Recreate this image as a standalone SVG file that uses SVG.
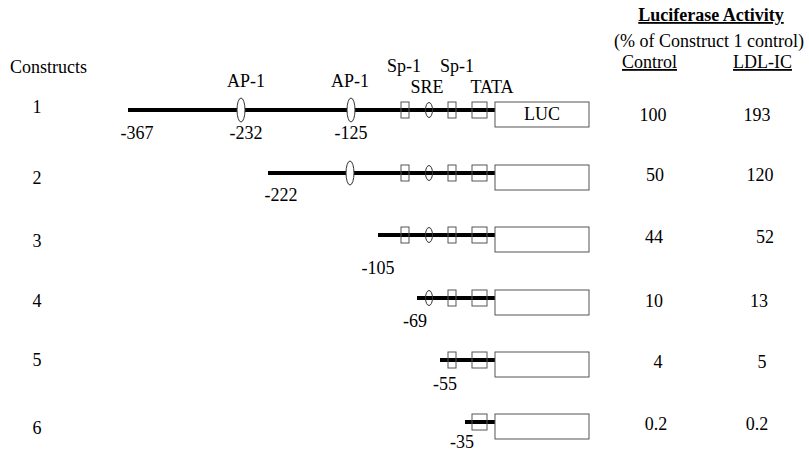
<svg xmlns="http://www.w3.org/2000/svg" width="809" height="451" viewBox="0 0 809 451">
<style>
text{font-family:"Liberation Serif","Times New Roman",serif;font-size:18px;fill:#000}
.m{text-anchor:middle}
.u{text-decoration:underline}
.b{font-weight:bold}
.dna{stroke:#000;stroke-width:4;fill:none}
.box{fill:none;stroke:#555;stroke-width:1}
.luc{fill:#fff;stroke:#555;stroke-width:1}
.ap{fill:#fff;stroke:#333;stroke-width:1}
.sre{fill:none;stroke:#333;stroke-width:1}
</style>
<rect width="809" height="451" fill="#fff"/>
<g id="header">
<text class="m b u" x="711" y="21">Luciferase Activity</text>
<text class="m" x="709" y="47">(% of Construct 1 control)</text>
<text class="u" x="622" y="68">Control</text>
<text class="u" x="733" y="68">LDL-IC</text>
<text x="10" y="73">Constructs</text>
</g>
<g id="labels">
<text class="m" x="246" y="87">AP-1</text>
<text class="m" x="350" y="87">AP-1</text>
<text class="m" x="404" y="72">Sp-1</text>
<text class="m" x="457" y="72">Sp-1</text>
<text class="m" x="427" y="93">SRE</text>
<text class="m" x="492" y="93">TATA</text>
</g>
<g id="connectors">
<line class="dna" x1="128" y1="110" x2="495" y2="110"/>
<line class="dna" x1="268" y1="173" x2="495" y2="173"/>
<line class="dna" x1="378" y1="235" x2="495" y2="235"/>
<line class="dna" x1="417" y1="298" x2="495" y2="298"/>
<line class="dna" x1="440" y1="360" x2="495" y2="360"/>
<line class="dna" x1="465" y1="422" x2="495" y2="422"/>
</g>
<g id="construct1">
<text class="m" x="37" y="113">1</text>
<ellipse class="ap" cx="241" cy="110" rx="4" ry="12"/>
<ellipse class="ap" cx="351" cy="110" rx="4" ry="12"/>
<rect class="box" x="401" y="102" width="8" height="16"/>
<ellipse class="sre" cx="429" cy="110" rx="3.5" ry="7.5"/>
<rect class="box" x="448" y="102" width="8" height="16"/>
<rect class="box" x="472" y="102" width="15" height="16"/>
<rect class="luc" x="495" y="102" width="94" height="25"/>
<text class="m" x="542" y="120">LUC</text>
<text class="m" x="137" y="139">-367</text>
<text class="m" x="246" y="139">-232</text>
<text class="m" x="351" y="139">-125</text>
<text class="m" x="653" y="121">100</text>
<text class="m" x="757" y="121">193</text>
</g>
<g id="construct2">
<text class="m" x="37" y="184">2</text>
<ellipse class="ap" cx="350" cy="173" rx="4" ry="12"/>
<rect class="box" x="401" y="165" width="8" height="16"/>
<ellipse class="sre" cx="429" cy="173" rx="3.5" ry="7.5"/>
<rect class="box" x="448" y="165" width="8" height="16"/>
<rect class="box" x="472" y="165" width="15" height="16"/>
<rect class="luc" x="495" y="165" width="94" height="25"/>
<text class="m" x="281" y="201">-222</text>
<text class="m" x="655" y="181">50</text>
<text class="m" x="760" y="181">120</text>
</g>
<g id="construct3">
<text class="m" x="37" y="247">3</text>
<rect class="box" x="401" y="227" width="8" height="16"/>
<ellipse class="sre" cx="429" cy="235" rx="3.5" ry="7.5"/>
<rect class="box" x="448" y="227" width="8" height="16"/>
<rect class="box" x="472" y="227" width="15" height="16"/>
<rect class="luc" x="495" y="227" width="94" height="25"/>
<text class="m" x="378" y="274">-105</text>
<text class="m" x="654" y="243">44</text>
<text class="m" x="765" y="243">52</text>
</g>
<g id="construct4">
<text class="m" x="37" y="307">4</text>
<ellipse class="sre" cx="429" cy="298" rx="3.5" ry="7.5"/>
<rect class="box" x="448" y="290" width="8" height="16"/>
<rect class="box" x="472" y="290" width="15" height="16"/>
<rect class="luc" x="495" y="290" width="94" height="25"/>
<text class="m" x="415" y="327">-69</text>
<text class="m" x="654" y="307">10</text>
<text class="m" x="759" y="307">13</text>
</g>
<g id="construct5">
<text class="m" x="37" y="366">5</text>
<rect class="box" x="448" y="352" width="8" height="16"/>
<rect class="box" x="472" y="352" width="15" height="16"/>
<rect class="luc" x="495" y="352" width="94" height="25"/>
<text class="m" x="445" y="390">-55</text>
<text class="m" x="658" y="368">4</text>
<text class="m" x="762" y="368">5</text>
</g>
<g id="construct6">
<text class="m" x="37" y="434">6</text>
<rect class="box" x="472" y="414" width="15" height="16"/>
<rect class="luc" x="495" y="414" width="94" height="25"/>
<text class="m" x="462" y="448">-35</text>
<text class="m" x="656" y="430">0.2</text>
<text class="m" x="757" y="430">0.2</text>
</g>
</svg>
